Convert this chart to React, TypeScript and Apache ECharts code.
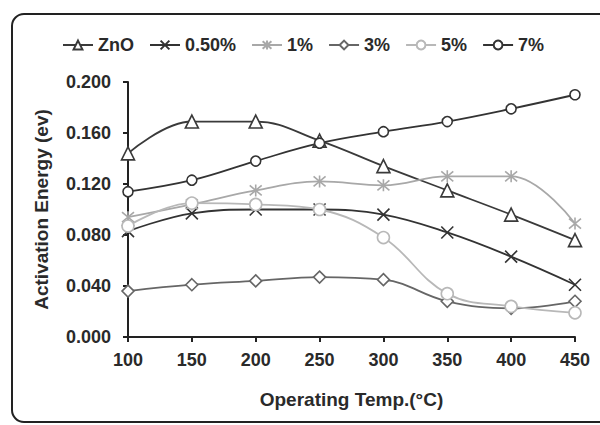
import React, { useEffect, useRef } from "react";
import * as echarts from "echarts";

const temps = ["100", "150", "200", "250", "300", "350", "400", "450"];
const znO = [0.144, 0.169, 0.169, 0.154, 0.134, 0.115, 0.096, 0.076];
const p050 = [0.083, 0.097, 0.1, 0.1, 0.096, 0.082, 0.063, 0.041];
const p1 = [0.094, 0.104, 0.115, 0.122, 0.119, 0.126, 0.126, 0.089];
const p3 = [0.036, 0.041, 0.044, 0.047, 0.045, 0.028, 0.0225, 0.028];
const p5 = [0.087, 0.105, 0.104, 0.1, 0.078, 0.034, 0.024, 0.019];
const p7 = [0.114, 0.123, 0.138, 0.152, 0.161, 0.169, 0.179, 0.19];
const yTicks = [0, 0.04, 0.08, 0.12, 0.16, 0.2];

const FONT = "Liberation Sans";
const X_PATH = "path://M0,0L10,10M10,0L0,10";
const STAR_PATH = "path://M5,-1L5,11M0,0L10,10M10,0L0,10";

export default function App() {
  const ref = useRef<HTMLDivElement>(null);
  useEffect(() => {
    document.body.style.margin = "0";
    const chart = echarts.init(ref.current!, null, { renderer: "svg" });
    const mk = (
      name: string,
      data: number[],
      color: string,
      symbol: string,
      size: number,
      fill: string,
      width = 1.8
    ) => ({
      name,
      type: "line",
      data,
      smooth: 0.4,
      symbol,
      symbolSize: size,
      lineStyle: { color, width },
      itemStyle: { color: fill, borderColor: color, borderWidth: 1.6 },
      emphasis: { disabled: true },
    });
    chart.setOption({
      animation: false,
      backgroundColor: "#fff",
      graphic: [
        {
          type: "rect",
          shape: { x: 12, y: 14, width: 600, height: 408, r: 12 },
          style: { fill: "none", stroke: "#222", lineWidth: 2 },
          silent: true,
        },
      ],
      legend: {
        top: 31,
        left: 57,
        itemGap: 15,
        itemWidth: 30,
        itemHeight: 11,
        textStyle: { fontFamily: FONT, fontWeight: "bold", fontSize: 18, color: "#2a2a2a" },
        data: ["ZnO", "0.50%", "1%", "3%", "5%", "7%"],
      },
      grid: { left: 128, right: 25, top: 82, bottom: 88 },
      xAxis: {
        type: "category",
        data: temps,
        boundaryGap: false,
        name: "Operating Temp.(°C)",
        nameLocation: "middle",
        nameGap: 53,
        nameTextStyle: { fontFamily: FONT, fontWeight: "bold", fontSize: 19, color: "#2a2a2a" },
        axisLine: { lineStyle: { color: "#222", width: 2 } },
        axisTick: { alignWithLabel: true, length: 5, lineStyle: { color: "#222", width: 2 } },
        axisLabel: { fontFamily: FONT, fontWeight: "bold", fontSize: 18, color: "#2a2a2a", margin: 14 },
        splitLine: { show: false },
      },
      yAxis: {
        type: "value",
        min: yTicks[0],
        max: yTicks[yTicks.length - 1],
        interval: 0.04,
        name: "Activation Energy (ev)",
        nameLocation: "middle",
        nameRotate: 90,
        nameGap: 77,
        nameTextStyle: { fontFamily: FONT, fontWeight: "bold", fontSize: 19, color: "#2a2a2a" },
        axisLine: { show: true, lineStyle: { color: "#222", width: 2 } },
        axisTick: { show: true, length: 5, lineStyle: { color: "#222", width: 2 } },
        axisLabel: {
          fontFamily: FONT,
          fontWeight: "bold",
          fontSize: 18,
          color: "#2a2a2a",
          margin: 17,
          formatter: (v: number) => v.toFixed(3),
        },
        splitLine: { show: false },
      },
      series: [
        mk("ZnO", znO, "#3a3a3a", "triangle", 13, "#fff"),
        mk("0.50%", p050, "#333", X_PATH, 12, "#333"),
        mk("1%", p1, "#a8a8a8", STAR_PATH, 12, "#a8a8a8"),
        mk("3%", p3, "#666", "diamond", 12, "#fff"),
        mk("5%", p5, "#b8b8b8", "circle", 12, "#fff"),
        mk("7%", p7, "#333", "circle", 10, "#fff"),
      ],
    });
    return () => chart.dispose();
  }, []);
  return <div ref={ref} style={{ width: 600, height: 425 }} />;
}
